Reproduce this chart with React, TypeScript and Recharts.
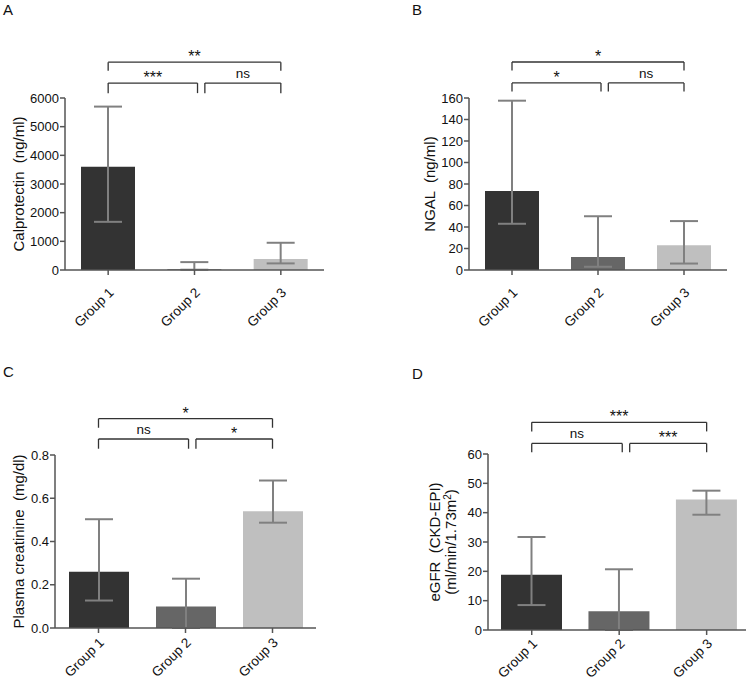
import React from "react";
import { BarChart, Bar, XAxis, YAxis, ErrorBar, ReferenceLine, Cell } from "recharts";

const groups = ["Group 1", "Group 2", "Group 3"];
const groupPos = [1, 2, 3];
const barColors = ["#333333", "#666666", "#bfbfbf"];

// A: calprotectin (ng/ml)
const calMean = [3600, 25, 380];
const calLow = [1680, 10, 230];
const calHigh = [5700, 275, 950];
const calTicks = [0, 1000, 2000, 3000, 4000, 5000, 6000];
const calSig = ["**", "***", "ns"];
const calLevels = [7250, 6950, 6520, 6170];

// B: NGAL (ng/ml)
const ngalMean = [73.5, 12, 23];
const ngalLow = [43, 3, 6];
const ngalHigh = [157.5, 50, 45.5];
const ngalTicks = [0, 20, 40, 60, 80, 100, 120, 140, 160];
const ngalSig = ["*", "*", "ns"];
const ngalLevels = [193.5, 185.5, 174, 166];

// C: plasma creatinine (mg/dl)
const creatMean = [0.26, 0.1, 0.54];
const creatLow = [0.127, 0, 0.487];
const creatHigh = [0.503, 0.228, 0.682];
const creatTicks = [0, 0.2, 0.4, 0.6, 0.8];
const creatSig = ["*", "ns", "*"];
const creatLevels = [0.968, 0.926, 0.874, 0.829];

// D: eGFR (ml/min/1.73m2)
const egfrMean = [18.8, 6.4, 44.5];
const egfrLow = [8.5, 0, 39.3];
const egfrHigh = [31.7, 20.7, 47.5];
const egfrTicks = [0, 10, 20, 30, 40, 50, 60];
const egfrSig = ["***", "ns", "***"];
const egfrLevels = [70.8, 67.7, 63.6, 60.6];

// bracket spans in group units: outer, lower-left, lower-right
const bracketSpans = [
  [1, 3],
  [1, 2.035],
  [2.12, 3],
];

const FONT = "'Liberation Sans', Arial, sans-serif";
const AXIS = "#555555";
const INK = "#111111";

function makeRows(mean: number[], low: number[], high: number[]) {
  return groupPos.map((x, i) => ({
    x,
    name: groups[i],
    value: mean[i],
    err: [mean[i] - low[i], high[i] - mean[i]],
  }));
}

function GroupTick({ x, y, payload }: any) {
  const tx = x + 3;
  return (
    <text
      x={tx}
      y={y}
      dy="0.35em"
      textAnchor="end"
      transform={`rotate(-45, ${tx}, ${y})`}
      fontSize={13.5}
      fill={INK}
      fontFamily={FONT}
    >
      {groups[payload.value - 1]}
    </text>
  );
}

function YTitle({ viewBox, lines, dxs }: any) {
  const cy = viewBox.y + viewBox.height / 2;
  return (
    <g>
      {lines.map((line: React.ReactNode, i: number) => {
        const cx = viewBox.x + dxs[i];
        return (
          <text
            key={i}
            x={cx}
            y={cy}
            dy="0.35em"
            textAnchor="middle"
            transform={`rotate(-90, ${cx}, ${cy})`}
            fontSize={15}
            fill={INK}
            fontFamily={FONT}
          >
            {line}
          </text>
        );
      })}
    </g>
  );
}

function brackets(levels: number[], labels: string[]) {
  const [topY, topFoot, lowY, lowFoot] = levels;
  const ys = [topY, lowY, lowY];
  const feet = [topFoot, lowFoot, lowFoot];
  const line = { stroke: "#333333", strokeWidth: 1.3, ifOverflow: "visible" as const };
  return bracketSpans.flatMap(([a, b], i) => {
    const isStar = labels[i].startsWith("*");
    return [
      <ReferenceLine
        key={`h${i}`}
        {...line}
        segment={[
          { x: a, y: ys[i] },
          { x: b, y: ys[i] },
        ]}
        label={{
          value: labels[i],
          position: "top",
          offset: isStar ? 0 : 5,
          fontSize: isStar ? 16 : 13.5,
          fill: INK,
          fontFamily: FONT,
        }}
      />,
      <ReferenceLine
        key={`l${i}`}
        {...line}
        segment={[
          { x: a, y: ys[i] },
          { x: a, y: feet[i] },
        ]}
      />,
      <ReferenceLine
        key={`r${i}`}
        {...line}
        segment={[
          { x: b, y: ys[i] },
          { x: b, y: feet[i] },
        ]}
      />,
    ];
  });
}

interface PanelProps {
  width: number;
  height: number;
  margin: { top: number; right: number; bottom: number; left: number };
  yWidth: number;
  xHeight: number;
  xTickGap: number;
  xDomain: number[];
  barSize: number;
  rows: any[];
  ticks: number[];
  decimals: number;
  levels: number[];
  sig: string[];
  title: React.ReactElement;
}

function Panel(p: PanelProps) {
  return (
    <BarChart width={p.width} height={p.height} data={p.rows} margin={p.margin} style={{ fontFamily: FONT }}>
      <XAxis
        type="number"
        dataKey="x"
        domain={p.xDomain}
        ticks={groupPos}
        interval={0}
        height={p.xHeight}
        tick={<GroupTick />}
        tickSize={5}
        tickMargin={p.xTickGap}
        axisLine={{ stroke: AXIS, strokeWidth: 1.5 }}
        tickLine={{ stroke: AXIS, strokeWidth: 1.5 }}
      />
      <YAxis
        type="number"
        domain={[0, p.ticks[p.ticks.length - 1]]}
        ticks={p.ticks}
        interval={0}
        width={p.yWidth}
        tickSize={5}
        tickMargin={1}
        tickFormatter={(v: number) => v.toFixed(p.decimals)}
        tick={{ fill: INK, fontSize: 13, fontFamily: FONT }}
        axisLine={{ stroke: AXIS, strokeWidth: 1.5 }}
        tickLine={{ stroke: AXIS, strokeWidth: 1.5 }}
        label={p.title}
      />
      <Bar dataKey="value" barSize={p.barSize} isAnimationActive={false}>
        {p.rows.map((r, i) => (
          <Cell key={r.name} fill={barColors[i]} />
        ))}
        <ErrorBar dataKey="err" direction="y" width={14} stroke="#808080" strokeWidth={2} />
      </Bar>
      {brackets(p.levels, p.sig)}
    </BarChart>
  );
}

const letterStyle: React.CSSProperties = {
  position: "absolute",
  fontFamily: FONT,
  fontSize: 15,
  lineHeight: "15px",
  color: INK,
};

export default function App() {
  return (
    <div style={{ position: "absolute", left: 0, top: 0, width: 753, height: 681, background: "#fff" }}>
      <div style={{ position: "absolute", left: 0, top: 0 }}>
        <Panel
          width={376}
          height={340}
          margin={{ top: 98, right: 52, bottom: 10, left: 5 }}
          yWidth={60}
          xHeight={60}
          xTickGap={15}
          xDomain={[0.5, 3.5]}
          barSize={54}
          rows={makeRows(calMean, calLow, calHigh)}
          ticks={calTicks}
          decimals={0}
          levels={calLevels}
          sig={calSig}
          title={<YTitle lines={["Calprotectin \u00a0(ng/ml)"]} dxs={[14]} />}
        />
      </div>
      <div style={{ position: "absolute", left: 376, top: 0 }}>
        <Panel
          width={377}
          height={340}
          margin={{ top: 98, right: 26, bottom: 10, left: 33 }}
          yWidth={60}
          xHeight={60}
          xTickGap={15}
          xDomain={[0.5, 3.5]}
          barSize={54}
          rows={makeRows(ngalMean, ngalLow, ngalHigh)}
          ticks={ngalTicks}
          decimals={0}
          levels={ngalLevels}
          sig={ngalSig}
          title={<YTitle lines={["NGAL \u00a0(ng/ml)"]} dxs={[21]} />}
        />
      </div>
      <div style={{ position: "absolute", left: 0, top: 340 }}>
        <Panel
          width={376}
          height={341}
          margin={{ top: 115, right: 60, bottom: 8, left: 5 }}
          yWidth={50}
          xHeight={45}
          xTickGap={7}
          xDomain={[0.5, 3.5]}
          barSize={60}
          rows={makeRows(creatMean, creatLow, creatHigh)}
          ticks={creatTicks}
          decimals={1}
          levels={creatLevels}
          sig={creatSig}
          title={<YTitle lines={["Plasma creatinine \u00a0(mg/dl)"]} dxs={[14]} />}
        />
      </div>
      <div style={{ position: "absolute", left: 376, top: 340 }}>
        <Panel
          width={377}
          height={341}
          margin={{ top: 114, right: 7, bottom: 6, left: 62 }}
          yWidth={50}
          xHeight={45}
          xTickGap={6}
          xDomain={[0.5, 3.45]}
          barSize={61}
          rows={makeRows(egfrMean, egfrLow, egfrHigh)}
          ticks={egfrTicks}
          decimals={0}
          levels={egfrLevels}
          sig={egfrSig}
          title={
            <YTitle
              lines={[
                "eGFR \u00a0(CKD-EPI)",
                <>
                  (ml/min/1.73m
                  <tspan dy="-5" fontSize={10}>
                    2
                  </tspan>
                  <tspan dy="5">)</tspan>
                </>,
              ]}
              dxs={[-3, 12.5]}
            />
          }
        />
      </div>
      <div style={{ ...letterStyle, left: 3, top: 2 }}>A</div>
      <div style={{ ...letterStyle, left: 412, top: 2 }}>B</div>
      <div style={{ ...letterStyle, left: 3, top: 364 }}>C</div>
      <div style={{ ...letterStyle, left: 412, top: 366 }}>D</div>
    </div>
  );
}
